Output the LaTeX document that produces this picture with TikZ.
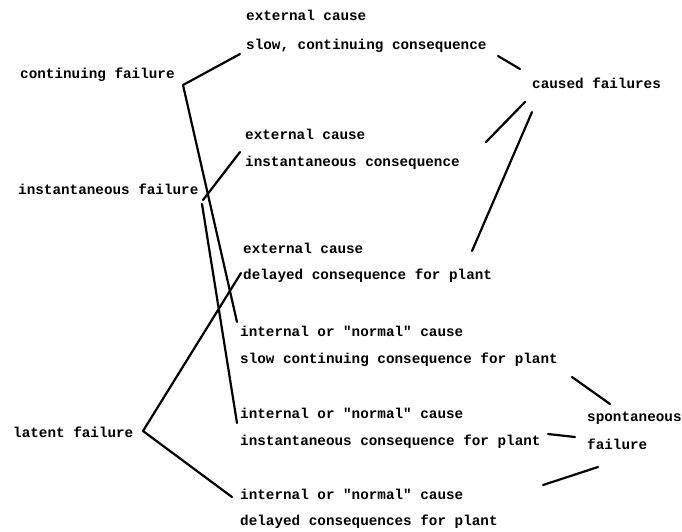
\documentclass[tikz,border=0pt]{standalone}
\usepackage{fontspec}
\setmonofont{Liberation Mono}
\begin{document}
\begin{tikzpicture}[x=1pt,y=-1pt,
  lbl/.style={anchor=base west,inner sep=0pt,font=\fontsize{14.3}{16}\selectfont\ttfamily\bfseries},
  conn/.style={line width=2.2pt,line cap=round}]
\useasboundingbox (0,0) rectangle (682,531);
% labels
\node[lbl] (ec1) at (246,20) {external cause};
\node[lbl] (sc1) at (246,49) {slow, continuing consequence};
\node[lbl] (cf)  at (532,88) {caused failures};
\node[lbl] (cont) at (20,78) {continuing failure};
\node[lbl] (ec2) at (245,139) {external cause};
\node[lbl] (ic2) at (245,166) {instantaneous consequence};
\node[lbl] (inst) at (18,194) {instantaneous failure};
\node[lbl] (ec3) at (243,253) {external cause};
\node[lbl] (dc3) at (243,279) {delayed consequence for plant};
\node[lbl] (in4) at (240,336) {internal or "normal" cause};
\node[lbl] (sc4) at (240,363) {slow continuing consequence for plant};
\node[lbl] (in5) at (240,418) {internal or "normal" cause};
\node[lbl] (ic5) at (240,445) {instantaneous consequence for plant};
\node[lbl] (sp)  at (587,421) {spontaneous};
\node[lbl] (spf) at (587,449) {failure};
\node[lbl] (lat) at (13,437) {latent failure};
\node[lbl] (in6) at (240,499) {internal or "normal" cause};
\node[lbl] (dc6) at (240,525) {delayed consequences for plant};
% joints and free ends
\coordinate (j1) at (183,85);
\coordinate (j2) at (203,200);
\coordinate (j2b) at (202,204);
\coordinate (j3) at (143,431);
\coordinate (e1) at (240,54);
\coordinate (e1b) at (237,322);
\coordinate (e2) at (240,152);
\coordinate (e2b) at (237,423);
\coordinate (e3) at (241,273);
\coordinate (e3b) at (232,497);
\coordinate (c1a) at (498,56);  \coordinate (c1b) at (520,69);
\coordinate (c2a) at (486,142); \coordinate (c2b) at (525,102);
\coordinate (c3a) at (472,251); \coordinate (c3b) at (532,112);
\coordinate (s1a) at (572,377); \coordinate (s1b) at (610,404);
\coordinate (s2a) at (548,434); \coordinate (s2b) at (575,437);
\coordinate (s3a) at (543,485); \coordinate (s3b) at (598,467);
% connectors
\draw[conn] (j1) -- (e1);
\draw[conn] (j1) -- (e1b);
\draw[conn] (j2) -- (e2);
\draw[conn] (j2b) -- (e2b);
\draw[conn] (j3) -- (e3);
\draw[conn] (j3) -- (e3b);
\draw[conn] (c1a) -- (c1b);
\draw[conn] (c2a) -- (c2b);
\draw[conn] (c3a) -- (c3b);
\draw[conn] (s1a) -- (s1b);
\draw[conn] (s2a) -- (s2b);
\draw[conn] (s3a) -- (s3b);
\end{tikzpicture}
\end{document}
